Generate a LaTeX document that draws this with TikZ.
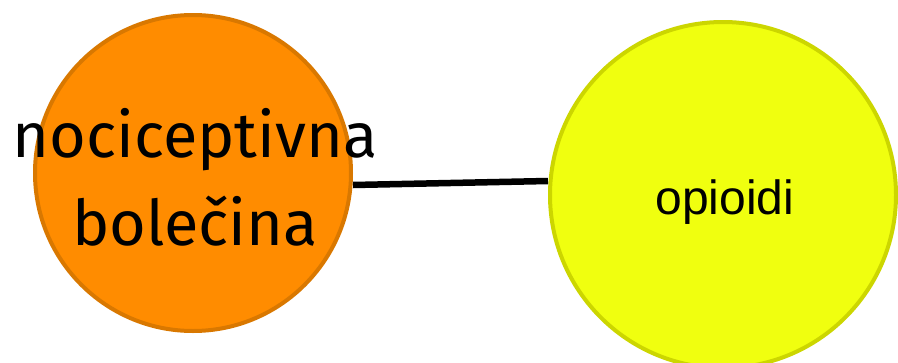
\documentclass[tikz,border=0pt]{standalone}
\usepackage{fontspec}
\setmainfont{Liberation Sans}
\newfontfamily\comicfont{Fira Sans}
\definecolor{orfill}{HTML}{FF8C00}
\definecolor{ordraw}{HTML}{D97800}
\definecolor{yefill}{HTML}{F0FF0F}
\definecolor{yedraw}{HTML}{CCD600}
\tikzset{
  bubble/.style={circle, line width=4pt, inner sep=0pt},
  link/.style={line width=6.5pt, black}
}
\begin{document}
\begin{tikzpicture}[x=1pt,y=-1pt]
\useasboundingbox (0,0) rectangle (898,362);
\node[bubble, fill=orfill, draw=ordraw, minimum size=316pt] (pain) at (193,173) {};
\node[bubble, fill=yefill, draw=yedraw, minimum size=346pt] (opi) at (723,195) {};
\draw[link] (pain.east |- 0,185) -- (opi.west |- 0,181);
\node[font=\comicfont\fontsize{63}{88}\selectfont, align=center, anchor=base] (painlbl) at (195,245) {nociceptivna\\bolečina};
\node[font=\fontsize{48}{50}\selectfont, anchor=base] (opilbl) at (725,214) {opioidi};
\end{tikzpicture}
\end{document}
